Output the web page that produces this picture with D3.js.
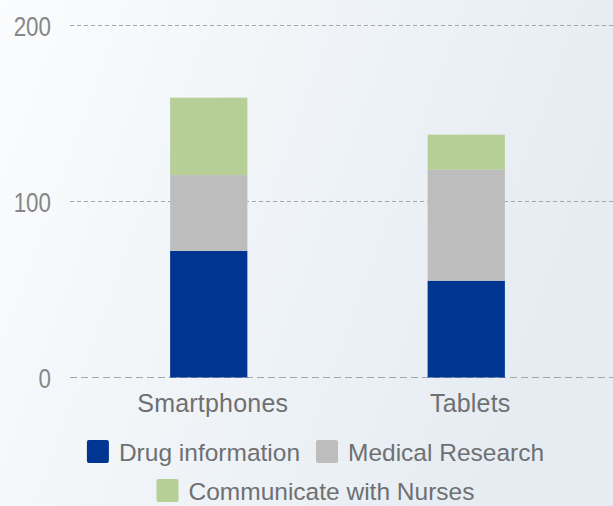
<!DOCTYPE html>
<html lang="en">
<head>
<meta charset="UTF-8">
<title>Device use</title>
<script src="https://d3js.org/d3.v7.min.js"></script>
<style>
  body { margin: 0; background: #fff; }
  svg { display: block; font-family: "Liberation Sans", Arial, sans-serif; }
</style>
</head>
<body>
<svg id="chart" width="613" height="506"></svg>
<script>
const categories = ["Smartphones", "Tablets"];
const seriesNames = ["Drug information", "Medical Research", "Communicate with Nurses"];
const drugInfo = [72, 55];
const medicalResearch = [43, 63];
const nurses = [44, 20];
const yTicks = [0, 100, 200];
const colors = ["#003591", "#bdbdbd", "#b5cf97"];

const width = 613, height = 506;
const svg = d3.select("#chart");

// background gradient
const defs = svg.append("defs");
const grad = defs.append("linearGradient").attr("id", "bg")
  .attr("x1", "0%").attr("y1", "0%").attr("x2", "100%").attr("y2", "30%");
grad.append("stop").attr("offset", "0%").attr("stop-color", "#fbfcfd");
grad.append("stop").attr("offset", "100%").attr("stop-color", "#e5ecf2");
svg.append("rect").attr("width", width).attr("height", height).attr("fill", "url(#bg)");

const x = d3.scaleBand().domain(categories).range([80, 595]).paddingInner(0.7).paddingOuter(0.35);
const y = d3.scaleLinear().domain([0, 200]).range([377.5, 25.5]);

// gridlines
svg.append("g").selectAll("line").data(yTicks).join("line")
  .attr("x1", 70).attr("x2", width)
  .attr("y1", d => y(d)).attr("y2", d => y(d))
  .attr("stroke", "#a4a7aa").attr("stroke-width", 1.2)
  .attr("stroke-dasharray", d => d === 0 ? "7,4" : "4,3");

// tick labels (narrow-looking in the original)
svg.append("g").selectAll("text").data(yTicks).join("text")
  .attr("transform", d => `translate(51,${y(d) + 10}) scale(0.8,1)`)
  .attr("text-anchor", "end")
  .attr("font-size", 28).attr("fill", "#858789")
  .text(d => d);

// stacked bars
const table = categories.map((c, i) => ({
  cat: c,
  [seriesNames[0]]: drugInfo[i],
  [seriesNames[1]]: medicalResearch[i],
  [seriesNames[2]]: nurses[i]
}));
const stacked = d3.stack().keys(seriesNames)(table);

svg.append("g").selectAll("g").data(stacked).join("g")
  .attr("fill", (d, i) => colors[i])
  .selectAll("rect").data(d => d).join("rect")
  .attr("x", d => x(d.data.cat))
  .attr("width", x.bandwidth())
  .attr("y", d => y(d[1]))
  .attr("height", d => y(d[0]) - y(d[1]));

// category labels
svg.append("g").selectAll("text").data(categories).join("text")
  .attr("x", d => x(d) + x.bandwidth() / 2 + 4)
  .attr("y", 412)
  .attr("text-anchor", "middle")
  .attr("font-size", 25).attr("letter-spacing", 0.2).attr("fill", "#6e7072")
  .text(d => d);

// legend, two centred rows
const rows = [[0, 1], [2]];
const rowY = [461, 500];
const cx = 315.5;
rows.forEach((row, r) => {
  const g = svg.append("g");
  const items = g.selectAll("g").data(row).join("g");
  items.append("rect").attr("y", -21).attr("width", 22).attr("height", 23).attr("rx", 2)
    .attr("fill", i => colors[i]);
  items.append("text").attr("x", 32)
    .attr("font-size", 24.5).attr("fill", "#6e7072")
    .text(i => seriesNames[i]);
  let pos = 0;
  items.each(function() {
    const w = 32 + d3.select(this).select("text").node().getComputedTextLength();
    d3.select(this).attr("transform", `translate(${pos},0)`);
    pos += w + 16;
  });
  const total = pos - 16;
  g.attr("transform", `translate(${cx - total / 2},${rowY[r]})`);
});
</script>
</body>
</html>
